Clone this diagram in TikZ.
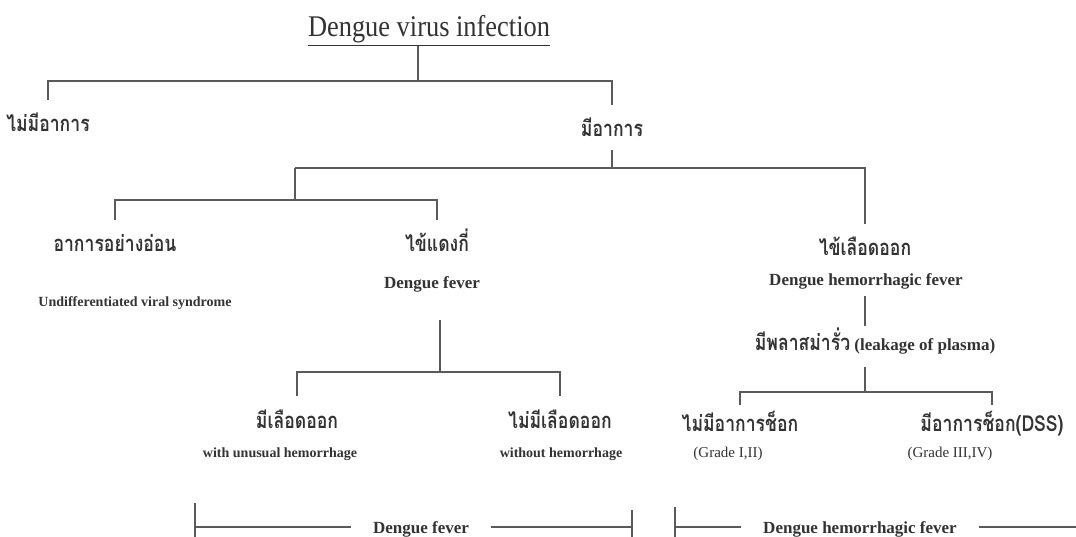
\documentclass[tikz,border=0pt]{standalone}
\usepackage{fontspec}
\setmainfont{Liberation Serif}
\newfontfamily\thaifont[Script=Thai]{Loma}
\usetikzlibrary{positioning}
\definecolor{inkgray}{HTML}{333333}
\definecolor{linegray}{HTML}{5A5A5A}
\newcommand{\thaipart}[1]{\scalebox{0.8}[1]{\thaifont\bfseries\fontsize{22}{24}\selectfont #1}}

\begin{document}
\begin{tikzpicture}[x=1pt,y=-1pt,
  link/.style={draw=linegray, line width=1.6pt},
  thailabel/.style={font=\thaifont\bfseries\fontsize{22}{24}\selectfont, text=inkgray, xscale=0.8, inner sep=0pt, anchor=base, text height=22pt, text depth=5pt},
  englabel/.style={font=\bfseries\fontsize{17}{18}\selectfont, text=inkgray, inner sep=0pt, anchor=base},
  notelabel/.style={font=\bfseries\fontsize{14}{15}\selectfont, text=inkgray, inner sep=0pt, anchor=base},
  gradelabel/.style={font=\fontsize{15}{16}\selectfont, text=inkgray, inner sep=0pt, anchor=base},
  spanlabel/.style={font=\bfseries\fontsize{17}{18}\selectfont, text=inkgray, inner xsep=22pt, inner ysep=0pt, anchor=base}]
  \useasboundingbox[fill=white] (0,0) rectangle (1076,537);

  \node[font=\fontsize{30}{32}\selectfont, text=inkgray, xscale=0.88, inner sep=0pt, anchor=base] (title) at (429,37) {\underline{Dengue virus infection}};

  \node[thailabel] (nosym) at (48,132) {ไม่มีอาการ};
  \node[thailabel] (sym) at (612,137) {มีอาการ};
  \node[thailabel] (mild) at (115,252) {อาการอย่างอ่อน};
  \node[notelabel] (undiff) at (135,306) {Undifferentiated viral syndrome};
  \node[thailabel] (dfth) at (437,252) {ไข้แดงกี่};
  \node[englabel] (dfen) at (432,289) {Dengue fever};
  \node[thailabel] (dhfth) at (865,256) {ไข้เลือดออก};
  \node[englabel] (dhfen) at (866,286) {Dengue hemorrhagic fever};
  \node[englabel, text height=22pt, text depth=5pt] (plasma) at (875,350) {\thaipart{มีพลาสม่ารั่ว} (leakage of plasma)};
  \node[thailabel] (bleed) at (297,428) {มีเลือดออก};
  \node[notelabel] (bleeden) at (280,457) {with unusual hemorrhage};
  \node[thailabel] (nobleed) at (560,428) {ไม่มีเลือดออก};
  \node[notelabel] (nobleeden) at (561,457) {without hemorrhage};
  \node[thailabel] (noshock) at (740,431) {ไม่มีอาการช็อก};
  \node[gradelabel] (gradelow) at (728,457) {(Grade I,II)};
  \node[thailabel] (shock) at (992,431) {มีอาการช็อก(DSS)};
  \node[gradelabel] (gradehigh) at (950,457) {(Grade III,IV)};

  \node[spanlabel] (dfspan) at (421,533) {Dengue fever};
  \node[spanlabel] (dhfspan) at (860,533) {Dengue hemorrhagic fever};

  \coordinate (b0) at (418,81);
  \coordinate (b1) at (295,168);
  \coordinate (b2) at (295,200);
  \coordinate (b3) at (440,372);
  \coordinate (b4) at (865,392);
  \coordinate (dfl) at (195,527);
  \coordinate (dfr) at (632,527);
  \coordinate (dhfl) at (675,527);
  \coordinate (dhfr) at (1076,527);

  \draw[link] (title.south -| b0) -- (b0);
  \draw[link, shorten <=10pt, shorten >=10pt] (nosym.north) |- (b0) -| (sym.north);
  \draw[link, shorten <=8pt] (sym.south) -- (sym.south |- b1);
  \draw[link, shorten >=10pt] (b1) -| (dhfth.north);
  \draw[link] (b1) -- (b2);
  \draw[link, shorten <=10pt, shorten >=10pt] (mild.north) |- (b2) -| (dfth.north);
  \draw[link, shorten <=27pt] (dfen.south -| b3) -- (b3);
  \draw[link, shorten <=10pt, shorten >=10pt] (bleed.north) |- (b3) -| (nobleed.north);
  \draw[link, shorten <=6pt, shorten >=2pt] (dhfen.south -| b4) -- (plasma.north -| b4);
  \draw[link, shorten <=12pt] (plasma.south -| b4) -- (b4);
  \draw[link, shorten <=4pt, shorten >=4pt] (noshock.north) |- (b4) -| (shock.north);

  \draw[link] (dfl) -- (dfl -| dfspan.west);
  \draw[link] (dfspan.east |- dfr) -- (dfr);
  \draw[link] (dfl) ++(0,-24) -- ++(0,34);
  \draw[link] (dfr) ++(0,-17) -- ++(0,27);
  \draw[link] (dhfl) -- (dhfl -| dhfspan.west);
  \draw[link] (dhfspan.east |- dhfr) -- (dhfr);
  \draw[link] (dhfl) ++(0,-20) -- ++(0,30);
\end{tikzpicture}
\end{document}
